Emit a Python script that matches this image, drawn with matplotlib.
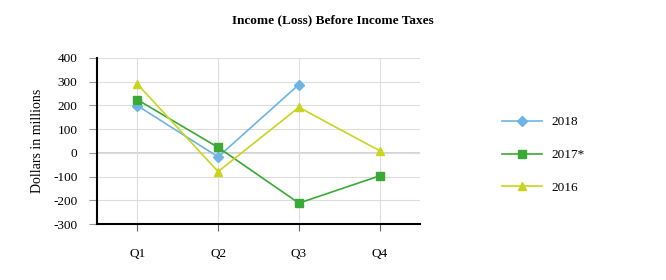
import matplotlib
matplotlib.use('Agg')
import matplotlib.pyplot as plt

quarters = ['Q1', 'Q2', 'Q3', 'Q4']
income_2018 = [199, -17, 288, None]
income_2017 = [224, 23, -212, -97]
income_2016 = [290, -79, 192, 9]
y_ticks = [-300, -200, -100, 0, 100, 200, 300, 400]

plt.rcParams['font.family'] = ['Liberation Serif', 'DejaVu Serif']
plt.rcParams['axes.unicode_minus'] = False

fig = plt.figure(figsize=(6.66, 2.8), dpi=100)
ax = fig.add_axes([97 / 666, 1 - 224 / 280, (420 - 97) / 666, (224 - 58) / 280])

x = list(range(len(quarters)))
series = [
    ('2018', income_2018, '#6cb4e4', 'D', 5),
    ('2017*', income_2017, '#3aa935', 's', 5.5),
    ('2016', income_2016, '#c8d51c', '^', 6),
]
for label, vals, color, marker, ms in series:
    xs = [i for i, v in zip(x, vals) if v is not None]
    ys = [v for v in vals if v is not None]
    ax.plot(xs, ys, color=color, marker=marker, markersize=ms, linewidth=1.2,
            label=label, zorder=3)

ax.set_xlim(-0.5, 3.5)
ax.set_ylim(-300, 400)
ax.set_xticks(x)
ax.set_xticklabels(quarters)
ax.set_yticks(y_ticks)
ax.grid(True, color='#dddddd', linewidth=0.8, zorder=0)
ax.axhline(0, color='#cccccc', linewidth=1.2, zorder=1)
for side in ['top', 'right']:
    ax.spines[side].set_visible(False)
ax.spines['left'].set_linewidth(1.5)
ax.spines['bottom'].set_linewidth(1.5)
ax.tick_params(axis='y', length=6, color='#999999', labelsize=9.5, pad=8)
ax.tick_params(axis='x', length=5, color='#666666', labelsize=9.5, pad=12)
ax.set_ylabel('Dollars in millions', fontsize=10)
ax.yaxis.set_label_coords(-(97 - 44) / 323, 0.5)

fig.text(0.5, 1 - 20 / 280, 'Income (Loss) Before Income Taxes', ha='center',
         va='center', fontsize=9.5, fontweight='bold')

ax.legend(loc='center left', bbox_to_anchor=((502 - 97) / 323, (224 - 155) / 166),
          frameon=False, fontsize=9.5, handlelength=3, handletextpad=0.75,
          labelspacing=1.55, borderaxespad=0, borderpad=0)

fig.savefig('out.png', dpi=100)
